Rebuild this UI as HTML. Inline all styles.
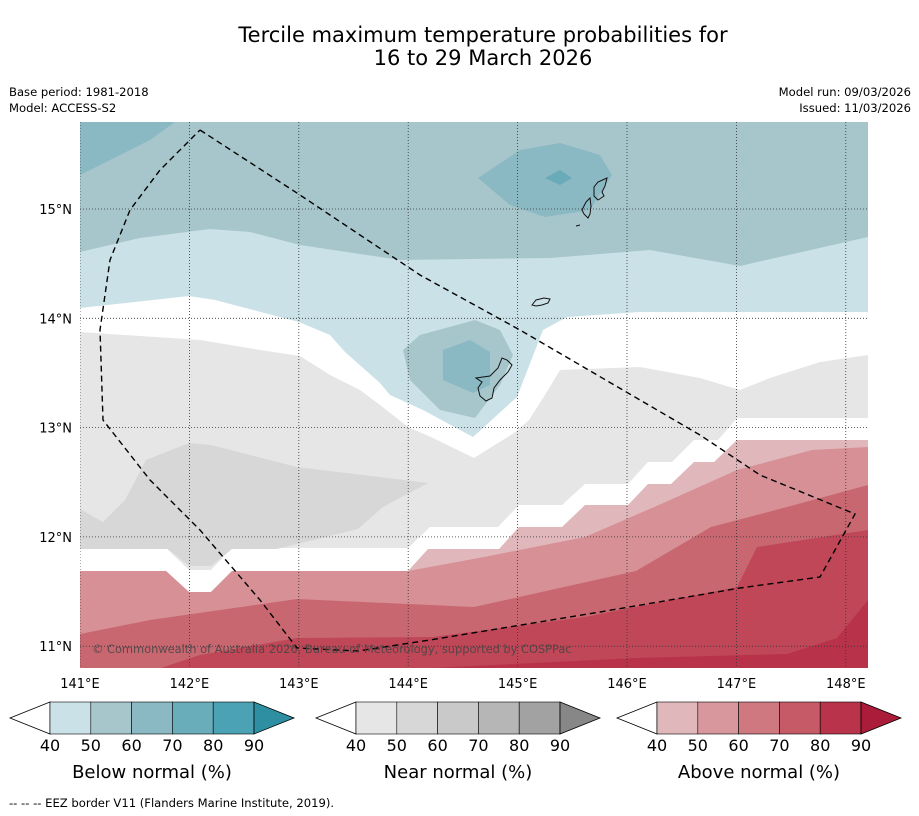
<!DOCTYPE html>
<html><head><meta charset="utf-8">
<style>
body{margin:0;background:#fff;width:919px;height:816px;overflow:hidden;font-family:"DejaVu Sans","Liberation Sans",sans-serif;}
svg{position:absolute;left:0;top:0;font-family:"DejaVu Sans","Liberation Sans",sans-serif;}
</style></head>
<body>
<svg id="chart" width="919" height="816" viewBox="0 0 919 816">
<text x="483" y="42" font-size="21" text-anchor="middle">Tercile maximum temperature probabilities for</text>
<text x="483" y="65" font-size="21" text-anchor="middle">16 to 29 March 2026</text>
<text x="9" y="96" font-size="11.6">Base period: 1981-2018</text>
<text x="9" y="112" font-size="11.6">Model: ACCESS-S2</text>
<text x="911" y="96" font-size="11.6" text-anchor="end">Model run: 09/03/2026</text>
<text x="911" y="112" font-size="11.6" text-anchor="end">Issued: 11/03/2026</text>
<defs><clipPath id="mapclip"><rect x="80" y="122" width="788" height="546"/></clipPath></defs>
<g clip-path="url(#mapclip)">
<rect x="80" y="122" width="788" height="546" fill="#fff"/>
<polygon fill="#cae1e7" points="80,122 868,122 868,312 640,312 567,317 543,330 517,397 473,437 423,410 390,395 380,383 345,352 330,335 299,322 215,300 189,296 80,308"/>
<polygon fill="#a7c6cb" points="80,122 868,122 868,237 740,266 650,250 550,258 400,260 300,245 250,232 210,229 140,238 80,252"/>
<polygon fill="#8ab8c3" points="80,122 175,122 150,140 80,175"/>
<polygon fill="#a7c6cb" points="403,350 420,335 475,320 500,330 513,355 500,385 475,418 440,410 410,380"/>
<polygon fill="#8ab8c3" points="443,350 470,340 490,352 490,385 473,393 443,380"/>
<polygon fill="#8ab8c3" points="478,178 520,150 560,143 600,155 612,175 590,210 545,217 510,205"/>
<polygon fill="#6aabb9" points="545,178 560,170 572,178 560,185"/>
<polygon fill="#e6e6e6" points="80,332 200,340 260,350 300,356 330,375 360,390 380,405 408,427 433,438 474,458 514,433 529,420 545,395 560,370 640,367 700,378 740,390 770,378 820,362 868,355 868,418 737,418 718,440 694,440 672,462 648,462 628,484 585,484 562,505 519,505 498,527 430,527 408,548 232,548 211,570 189,570 166,548 80,548"/>
<polygon fill="#d7d7d7" points="80,509 103,522 125,500 146,460 189,443 211,445 297,467 428,483 383,507 358,529 277,549 232,549 211,566 189,566 168,549 80,549"/>
<polygon fill="#e0b8bc" points="80,571 166,571 189,592 211,592 232,571 408,571 428,549 499,549 519,527 562,527 585,505 628,505 648,484 671,484 694,462 714,462 737,440 868,440 868,668 80,668"/>
<polygon fill="#d69096" points="80,571 166,571 189,592 211,592 232,571 408,571 484,557 585,537 661,504 737,470 812,450 868,447 868,668 80,668"/>
<polygon fill="#c96771" points="80,634 150,620 297,599 474,607 636,571 711,527 787,507 868,485 868,668 80,668"/>
<polygon fill="#bf4757" points="161,668 200,655 297,638 433,637 585,617 737,587 757,547 868,530 868,668"/>
<polygon fill="#b8324a" points="433,668 636,658 787,654 837,638 868,600 868,668"/>
<g id="grid"></g>
<g fill="none" stroke="#111" stroke-width="1">
<path d="M476,378 L490,376 L498,368 L502,358 L507,360 L512,365 L508,372 L500,380 L494,388 L492,398 L486,401 L480,396 L478,388 L482,382 Z"/>
<path d="M532,305 L536,300 L544,298 L550,299 L548,303 L542,305 L536,306 Z"/>
<path d="M582,210 L586,202 L590,198 L591,206 L590,214 L588,218 L584,214 Z"/>
<path d="M594,187 L598,182 L607,178 L605,186 L602,192 L604,196 L598,200 L594,196 Z"/>
<path d="M576,226 L580,225"/>
</g>
<polyline fill="none" stroke="#000" stroke-width="1.4" stroke-dasharray="6,4" points="200,130 300,195 390,255 420,275 520,330 580,365 640,400 700,435 760,475 855,514 820,577 740,588 600,612 430,640 358,651 297,648 260,600 200,530 150,480 103,420 100,330 110,260 130,210 160,170 200,130"/>
<text x="92" y="653" font-size="11.4" fill="#444" fill-opacity="0.85">© Commonwealth of Australia 2026, Bureau of Meteorology, supported by COSPPac</text>
</g>
<g id="axes"></g>
<g id="bars"></g>
<text x="9" y="807" font-size="11.6">--  --  -- EEZ border V11 (Flanders Marine Institute, 2019).</text>
</svg>
<script>
const lonTicks = [141,142,143,144,145,146,147,148];
const latTicks = [15,14,13,12,11];
const binLabels = ["40","50","60","70","80","90"];
const belowColors = ["#cae1e7","#a7c6cb","#8ab8c3","#6aadba","#4aa2b4","#2e8fa2"];
const nearColors = ["#e6e6e6","#d7d7d7","#c9c9c9","#b6b6b6","#a2a2a2","#878787"];
const aboveColors = ["#e0b8bc","#d8979c","#cf7880","#c65a67","#b9344a","#ab1c3a"];
const barTitles = ["Below normal (%)","Near normal (%)","Above normal (%)"];
const NS="http://www.w3.org/2000/svg";
const x = lon => 80 + (lon-141)*109.4;
const y = lat => 209 + (15-lat)*109.3;
function mk(tag, attrs, parent){const e=document.createElementNS(NS,tag);for(const k in attrs)e.setAttribute(k,attrs[k]);parent.appendChild(e);return e;}
const grid=document.getElementById('grid'), axes=document.getElementById('axes'), bars=document.getElementById('bars');
lonTicks.forEach(l=>{
  const ln=mk('line',{x1:x(l),x2:x(l),y1:122,y2:668,stroke:'#333','stroke-width':0.8,'stroke-dasharray':'1,2'},grid);
  
  
  const t=mk('text',{x:x(l),y:688,'font-size':13,'text-anchor':'middle'},axes);
  t.textContent=l+'°E';
  
  
});
latTicks.forEach(l=>{
  const ln=mk('line',{x1:80,x2:868,y1:y(l),y2:y(l),stroke:'#333','stroke-width':0.8,'stroke-dasharray':'1,2'},grid);
  
  
  const t=mk('text',{x:72,y:y(l)+5,'font-size':13,'text-anchor':'end'},axes);
  t.textContent=l+'°N';
  
  
});
const barSets=[belowColors,nearColors,aboveColors];
const barLefts=[50,356,657];
barSets.forEach((cols,i)=>{
  const L=barLefts[i], W=204, top=702, h=32, cw=W/5;
  const g=mk('g',{},bars);
  
  
  const lt=mk('polygon',{points:`${L},${top} ${L-40},${top+h/2} ${L},${top+h}`,fill:'#fff',stroke:'#000','stroke-width':0.8},g);
  
  
  for(let k=0;k<5;k++){
    const r=mk('rect',{x:L+k*cw,y:top,width:cw,height:h,fill:cols[k],stroke:'#000','stroke-width':0.6},g);
    
    
  }
  const rt=mk('polygon',{points:`${L+W},${top} ${L+W+40},${top+h/2} ${L+W},${top+h}`,fill:cols[5],stroke:'#000','stroke-width':0.8},g);
  
  
  binLabels.forEach((b,k)=>{
    const t=mk('text',{x:L+k*cw,y:751,'font-size':16,'text-anchor':'middle'},g);
    t.textContent=b;
    
    
  });
  const tt=mk('text',{x:L+W/2,y:778,'font-size':18,'text-anchor':'middle'},g);
  tt.textContent=barTitles[i];
  
  
});
</script>
</body></html>
